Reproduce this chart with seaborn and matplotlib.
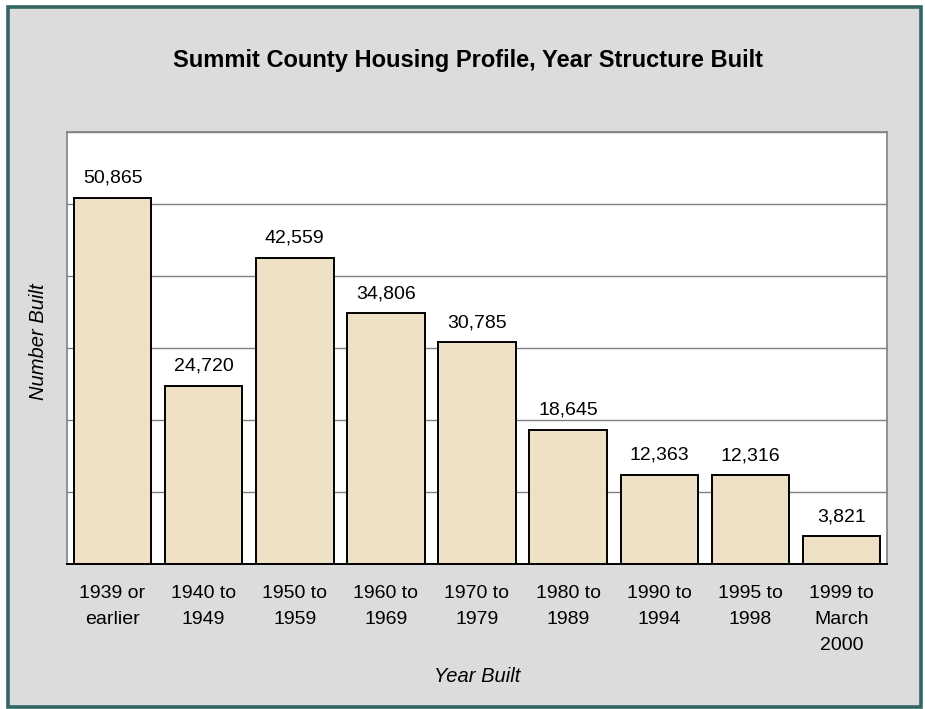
#!/usr/bin/env python3

import pandas as pd
import seaborn as sns
from matplotlib import pyplot as plt
from matplotlib.patches import Rectangle

# Data
periods = [
    "1939 or\nearlier",
    "1940 to\n1949",
    "1950 to\n1959",
    "1960 to\n1969",
    "1970 to\n1979",
    "1980 to\n1989",
    "1990 to\n1994",
    "1995 to\n1998",
    "1999 to\nMarch\n2000",
]
units_built = [50865, 24720, 42559, 34806, 30785, 18645, 12363, 12316, 3821]
grid_ticks = [0, 10000, 20000, 30000, 40000, 50000, 60000]


def plot_year_built():

    plot_df = pd.DataFrame({"Period": periods, "Units": units_built})

    sns.set_style("white")
    plt.rcParams["font.family"] = ["Liberation Sans", "DejaVu Sans"]
    plt.rcParams["text.color"] = "black"
    plt.rcParams["axes.labelcolor"] = "black"
    plt.rcParams["xtick.color"] = "black"

    fig = plt.figure(figsize=(9.25, 7.09), dpi=100)
    fig.patch.set_facecolor("white")

    # Outer frame with teal border
    fig.patches.append(
        Rectangle(
            (7.5 / 925, 1 - 706.5 / 709),
            (920.5 - 7.5) / 925,
            (706.5 - 6.5) / 709,
            transform=fig.transFigure,
            facecolor="#DCDCDC",
            edgecolor="#336663",
            linewidth=2.6,
            zorder=-10,
        )
    )

    ax = fig.add_axes([67 / 925, 1 - 564 / 709, 820 / 925, 432 / 709])
    ax.set_facecolor("white")

    sns.barplot(
        data=plot_df,
        x="Period",
        y="Units",
        color="#EFE1C6",
        edgecolor="black",
        linewidth=1.4,
        width=0.85,
        saturation=1,
        ax=ax,
        zorder=3,
    )

    # Value labels above bars
    for i, v in enumerate(units_built):
        ax.annotate(
            f"{v:,}",
            xy=(i, v),
            xytext=(0, 8),
            textcoords="offset points",
            ha="center",
            va="bottom",
            fontsize=14,
            color="black",
        )

    # Axis formatting
    ax.set_ylim(0, 60000)
    ax.set_xlim(-0.5, len(periods) - 0.5)
    ax.set_yticks(grid_ticks)
    ax.set_yticklabels([])
    ax.yaxis.grid(True, color="#808080", linewidth=1)
    ax.set_axisbelow(True)
    ax.tick_params(axis="both", length=0)
    ax.tick_params(axis="x", pad=15, labelsize=14)
    for lbl in ax.get_xticklabels():
        lbl.set_linespacing(1.68)

    for side in ["left", "top", "right"]:
        ax.spines[side].set_color("#808080")
        ax.spines[side].set_linewidth(1.2)
    ax.spines["bottom"].set_color("black")
    ax.spines["bottom"].set_linewidth(1.4)

    ax.set_xlabel("Year Built", fontsize=14.5, style="italic")
    ax.set_ylabel("Number Built", fontsize=14.5, style="italic")
    ax.xaxis.set_label_coords(0.5, -0.238)
    ax.yaxis.set_label_coords(-0.0235, 0.514)

    fig.text(
        468 / 925,
        1 - 60 / 709,
        "Summit County Housing Profile, Year Structure Built",
        ha="center",
        va="center",
        fontsize=17,
        fontweight="bold",
    )

    fig.savefig("out.png", dpi=100)
    plt.close()

    return 0


if __name__ == "__main__":
    plot_year_built()
